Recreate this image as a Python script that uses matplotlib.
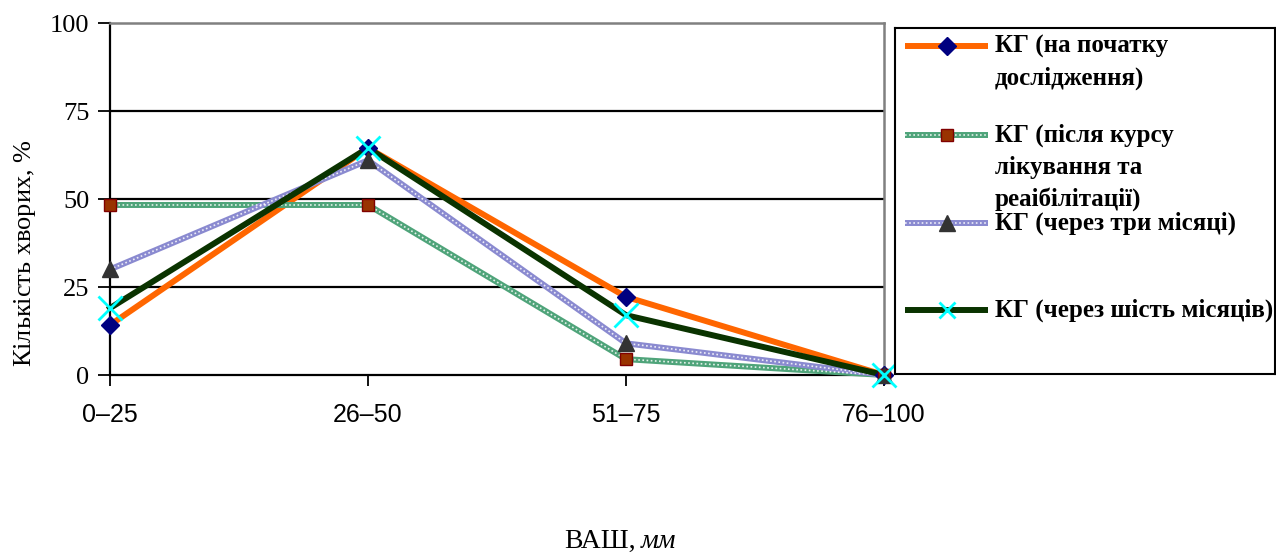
import matplotlib
matplotlib.use("Agg")
import matplotlib.pyplot as plt

plt.rcParams['font.family'] = ['Liberation Serif', 'DejaVu Serif']
plt.rcParams['mathtext.fontset'] = 'custom'
plt.rcParams['mathtext.rm'] = 'Liberation Serif'
plt.rcParams['mathtext.it'] = 'Liberation Serif:italic'

# data
categories = ['0–25', '26–50', '51–75', '76–100']
start = [14.2, 64.5, 22.2, 0]          # КГ (на початку дослідження)
after_course = [48.3, 48.3, 4.5, 0]    # КГ (після курсу лікування та реаібілітації)
three_months = [30.0, 61.0, 9.0, 0]    # КГ (через три місяці)
six_months = [19.0, 64.5, 17.0, 0]     # КГ (через шість місяців)

W, H = 1276, 553
fig = plt.figure(figsize=(W / 100, H / 100), dpi=100)
# plot area in pixels: x 110..884, y 23..375
ax = fig.add_axes([110 / W, 1 - 375 / H, (884 - 110) / W, (375 - 23) / H])

x = list(range(len(categories)))
LW = 4.3


def checker_line(ax, xs, ys, color, **kw):
    ax.plot(xs, ys, color=color, lw=LW, solid_capstyle='butt', clip_on=False, zorder=3, **kw)
    ax.plot(xs, ys, color='white', lw=1.2, linestyle=(0, (1, 1.5)), clip_on=False, zorder=3.1, alpha=0.85)


ax.plot(x, start, color='#ff6600', lw=LW, clip_on=False, zorder=3)
ax.plot(x, start, ls='none', marker='D', ms=9, color='#000080', clip_on=False, zorder=5)

checker_line(ax, x, after_course, '#4fa47a')
ax.plot(x, after_course, ls='none', marker='s', ms=9, mfc='#993300', mec='#800000', mew=1, clip_on=False, zorder=5)

checker_line(ax, x, three_months, '#8a8ad0')
ax.plot(x, three_months, ls='none', marker='^', ms=11, color='#333333', clip_on=False, zorder=5)

ax.plot(x, six_months, color='#0a3300', lw=LW, clip_on=False, zorder=4)
ax.plot(x, six_months, ls='none', marker='x', ms=17, mew=2, color='#00ffff', clip_on=False, zorder=6)

ax.set_xlim(0, 3)
ax.set_ylim(0, 100)
ax.set_yticks([0, 25, 50, 75, 100])
ax.set_xticks(x)
ax.set_xticklabels(categories, fontfamily='Liberation Sans', fontsize=18)
ax.tick_params(axis='y', labelsize=19, length=9, width=1.3, direction='out', pad=6)
ax.tick_params(axis='x', length=8, width=1.3, direction='out', pad=12)
ax.yaxis.grid(True, color='black', lw=1.6)
ax.set_axisbelow(True)
ax.get_ygridlines()[-1].set_visible(False)
ax.get_ygridlines()[0].set_visible(False)
for s in ['left', 'bottom']:
    ax.spines[s].set_color('black')
    ax.spines[s].set_linewidth(1.6)
for s in ['top', 'right']:
    ax.spines[s].set_color('#808080')
    ax.spines[s].set_linewidth(1.8)

# axis titles
fig.text(25 / W, 1 - 253 / H, 'Кількість хворих, $\\mathit{\\%}$', rotation=90,
         ha='center', va='center', fontsize=19)
fig.text(636 / W, 1 - 541 / H, 'ВАШ,', ha='right', va='center', fontsize=20)
fig.text(641 / W, 1 - 541 / H, 'мм', ha='left', va='center', fontsize=20, style='italic')

# legend box drawn in pixel coordinates
lg = fig.add_axes([895 / W, 1 - 374 / H, (1275 - 895) / W, (374 - 28) / H])
lg.set_xlim(895, 1275)
lg.set_ylim(374, 28)
lg.set_xticks([])
lg.set_yticks([])
for s in lg.spines.values():
    s.set_color('black')
    s.set_linewidth(1.5)

hx = [905, 988]
mx = 947
entries = [
    (46, ['КГ (на початку', 'дослідження)']),
    (135, ['КГ (після курсу', 'лікування та', 'реаібілітації)']),
    (223, ['КГ (через три місяці)']),
    (310, ['КГ (через шість місяців)']),
]
y1, y2, y3, y4 = [e[0] for e in entries]
lg.plot(hx, [y1, y1], color='#ff6600', lw=LW, solid_capstyle='butt')
lg.plot([mx], [y1], marker='D', ms=9, color='#000080')
checker_line(lg, hx, [y2, y2], '#4fa47a')
lg.plot([mx], [y2], marker='s', ms=9, mfc='#993300', mec='#800000', mew=1, zorder=5)
checker_line(lg, hx, [y3, y3], '#8a8ad0')
lg.plot([mx], [y3], marker='^', ms=11, color='#333333', zorder=5)
lg.plot(hx, [y4, y4], color='#0a3300', lw=LW, solid_capstyle='butt')
lg.plot([mx], [y4], marker='x', ms=11, mew=2, color='#00ffff', zorder=5)

for y0, lines in entries:
    for i, line in enumerate(lines):
        lg.text(995, y0 + i * 32, line, fontsize=18, fontweight='bold', va='center', ha='left')

fig.savefig('out.png', dpi=100)
